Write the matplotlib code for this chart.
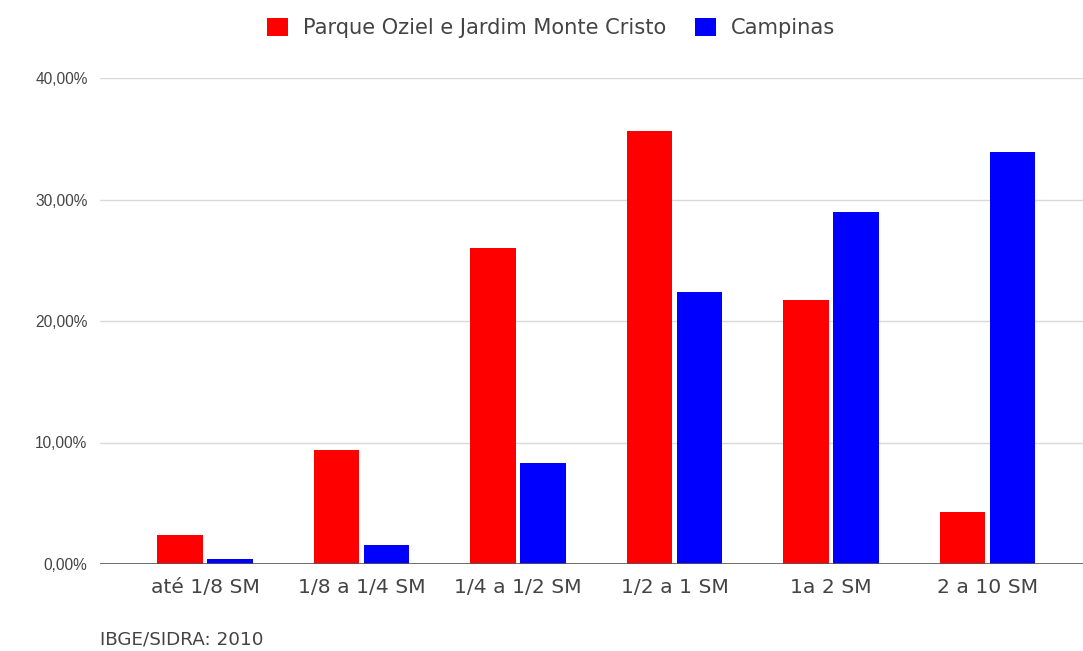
import matplotlib.pyplot as plt
from matplotlib.ticker import FuncFormatter

plt.rcParams['font.family'] = ['DejaVu Sans']

# income brackets (salários mínimos), share of households
categories = ['até 1/8 SM', '1/8 a 1/4 SM', '1/4 a 1/2 SM', '1/2 a 1 SM', '1a 2 SM', '2 a 10 SM']
oziel = [2.4, 9.4, 26.0, 35.6, 21.7, 4.3]
campinas = [0.4, 1.6, 8.3, 22.4, 29.0, 33.9]

fig = plt.figure(figsize=(10.83, 6.51), dpi=100)
ax = fig.add_axes([100 / 1083, 1 - 564 / 651, 1 - 100 / 1083, (564 - 78) / 651])

x = list(range(len(categories)))
w = 0.293
gap = 0.013
ax.bar([i - w / 2 - gap for i in x], oziel, width=w, color='#ff0000',
       label='Parque Oziel e Jardim Monte Cristo', zorder=3)
ax.bar([i + w / 2 + gap for i in x], campinas, width=w, color='#0000ff',
       label='Campinas', zorder=3)

ax.set_xlim(-0.671, 5.61)
ax.set_ylim(0, 40)
ax.set_yticks([0, 10, 20, 30, 40])
ax.yaxis.set_major_formatter(FuncFormatter(lambda v, p: f'{v:.2f}%'.replace('.', ',')))
ax.set_xticks(x)
ax.set_xticklabels(categories, fontsize=14.6)

ax.grid(axis='y', color='#d9d9d9', linewidth=1, zorder=0)
ax.axhline(0, color='#555555', linewidth=1.2, zorder=4)
for s in ax.spines.values():
    s.set_visible(False)
ax.tick_params(length=0, colors='#444444')
ax.tick_params(axis='x', pad=10)
ax.tick_params(axis='y', pad=9, labelsize=11.2, labelfontfamily='Liberation Sans')

fig.legend(loc='center', bbox_to_anchor=(0.509, 1 - 28 / 651), ncol=2, frameon=False,
           fontsize=15.1, handlelength=1.0, handleheight=1.0, columnspacing=1.4,
           handletextpad=0.7, labelcolor='#444444')

fig.text(100 / 1083, 1 - 640 / 651, 'IBGE/SIDRA: 2010', fontsize=13.2, color='#444444',
         va='center', ha='left')

fig.savefig('out.png', dpi=100)
